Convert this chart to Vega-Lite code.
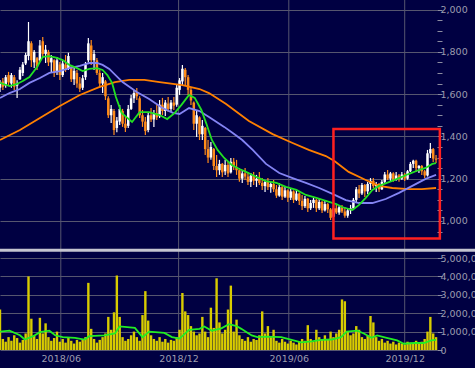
{
"$schema": "https://vega.github.io/schema/vega-lite/v6.json",
"width": 437, "height": 350,
"autosize": {"type": "none"},
"padding": {"left": 0, "top": 0, "right": 38, "bottom": 18},
"background": "#000042",
"config": {
  "view": {"stroke": null},
  "axis": {"labelFont": "DejaVu Sans", "labelFontSize": 9.5, "labelColor": "#9c9cae", "tickColor": "#8c8ca0", "gridColor": "#56566f", "domain": false}
},
"datasets": {
"grid": [{"t":64},{"t":188},{"t":304},{"t":426}],
"px": [
{"t":0,"o":1630,"h":1667,"l":1610,"c":1655,"v":2200000},
{"t":3,"o":1660,"h":1676,"l":1620,"c":1635,"v":600000},
{"t":6,"o":1640,"h":1690,"l":1630,"c":1680,"v":450000},
{"t":9,"o":1690,"h":1705,"l":1643,"c":1655,"v":700000},
{"t":12,"o":1650,"h":1700,"l":1630,"c":1690,"v":500000},
{"t":15,"o":1680,"h":1690,"l":1620,"c":1635,"v":800000},
{"t":18,"o":1640,"h":1665,"l":1582,"c":1650,"v":650000},
{"t":21,"o":1670,"h":1728,"l":1667,"c":1715,"v":400000},
{"t":24,"o":1700,"h":1752,"l":1686,"c":1740,"v":550000},
{"t":27,"o":1745,"h":1795,"l":1738,"c":1785,"v":900000},
{"t":30,"o":1780,"h":1941,"l":1760,"c":1850,"v":4000000},
{"t":33,"o":1840,"h":1850,"l":1728,"c":1760,"v":1700000},
{"t":36,"o":1750,"h":1809,"l":1724,"c":1800,"v":800000},
{"t":39,"o":1770,"h":1775,"l":1714,"c":1730,"v":600000},
{"t":42,"o":1760,"h":1856,"l":1752,"c":1830,"v":1750000},
{"t":45,"o":1850,"h":1870,"l":1771,"c":1790,"v":900000},
{"t":48,"o":1790,"h":1832,"l":1747,"c":1810,"v":1450000},
{"t":51,"o":1800,"h":1809,"l":1733,"c":1750,"v":700000},
{"t":54,"o":1750,"h":1785,"l":1705,"c":1770,"v":500000},
{"t":57,"o":1760,"h":1765,"l":1681,"c":1700,"v":650000},
{"t":60,"o":1710,"h":1776,"l":1690,"c":1760,"v":1000000},
{"t":63,"o":1740,"h":1752,"l":1667,"c":1690,"v":450000},
{"t":66,"o":1690,"h":1761,"l":1681,"c":1745,"v":600000},
{"t":69,"o":1740,"h":1785,"l":1705,"c":1720,"v":400000},
{"t":72,"o":1720,"h":1795,"l":1714,"c":1780,"v":700000},
{"t":75,"o":1730,"h":1738,"l":1657,"c":1670,"v":500000},
{"t":78,"o":1670,"h":1724,"l":1643,"c":1710,"v":350000},
{"t":81,"o":1700,"h":1714,"l":1630,"c":1650,"v":550000},
{"t":84,"o":1650,"h":1681,"l":1610,"c":1625,"v":450000},
{"t":87,"o":1630,"h":1690,"l":1620,"c":1675,"v":600000},
{"t":90,"o":1680,"h":1752,"l":1667,"c":1740,"v":700000},
{"t":93,"o":1760,"h":1865,"l":1750,"c":1840,"v":3650000},
{"t":96,"o":1830,"h":1856,"l":1738,"c":1760,"v":1150000},
{"t":99,"o":1760,"h":1809,"l":1714,"c":1790,"v":600000},
{"t":102,"o":1760,"h":1771,"l":1690,"c":1700,"v":400000},
{"t":105,"o":1700,"h":1714,"l":1630,"c":1650,"v":550000},
{"t":108,"o":1650,"h":1700,"l":1605,"c":1680,"v":700000},
{"t":111,"o":1660,"h":1667,"l":1572,"c":1590,"v":900000},
{"t":114,"o":1580,"h":1590,"l":1487,"c":1500,"v":1800000},
{"t":117,"o":1500,"h":1549,"l":1463,"c":1530,"v":1100000},
{"t":120,"o":1520,"h":1530,"l":1407,"c":1430,"v":2050000},
{"t":123,"o":1440,"h":1492,"l":1420,"c":1475,"v":4050000},
{"t":126,"o":1470,"h":1549,"l":1454,"c":1530,"v":1800000},
{"t":129,"o":1520,"h":1530,"l":1445,"c":1460,"v":700000},
{"t":132,"o":1460,"h":1492,"l":1421,"c":1440,"v":500000},
{"t":135,"o":1450,"h":1549,"l":1440,"c":1530,"v":600000},
{"t":138,"o":1530,"h":1596,"l":1525,"c":1580,"v":800000},
{"t":141,"o":1580,"h":1620,"l":1558,"c":1605,"v":1000000},
{"t":144,"o":1610,"h":1629,"l":1572,"c":1590,"v":700000},
{"t":147,"o":1580,"h":1590,"l":1487,"c":1500,"v":500000},
{"t":150,"o":1500,"h":1525,"l":1445,"c":1470,"v":1900000},
{"t":153,"o":1470,"h":1492,"l":1407,"c":1425,"v":3200000},
{"t":156,"o":1430,"h":1515,"l":1420,"c":1500,"v":1600000},
{"t":159,"o":1500,"h":1534,"l":1468,"c":1480,"v":800000},
{"t":162,"o":1480,"h":1525,"l":1445,"c":1510,"v":600000},
{"t":165,"o":1510,"h":1549,"l":1478,"c":1490,"v":500000},
{"t":168,"o":1495,"h":1572,"l":1487,"c":1550,"v":700000},
{"t":171,"o":1550,"h":1582,"l":1501,"c":1520,"v":450000},
{"t":174,"o":1520,"h":1572,"l":1497,"c":1560,"v":600000},
{"t":177,"o":1555,"h":1586,"l":1515,"c":1530,"v":400000},
{"t":180,"o":1530,"h":1572,"l":1515,"c":1560,"v":550000},
{"t":183,"o":1560,"h":1586,"l":1525,"c":1545,"v":500000},
{"t":186,"o":1550,"h":1643,"l":1540,"c":1630,"v":700000},
{"t":189,"o":1620,"h":1676,"l":1596,"c":1665,"v":1100000},
{"t":192,"o":1660,"h":1738,"l":1643,"c":1720,"v":3100000},
{"t":195,"o":1715,"h":1724,"l":1643,"c":1680,"v":2100000},
{"t":198,"o":1680,"h":1690,"l":1596,"c":1620,"v":1900000},
{"t":201,"o":1620,"h":1629,"l":1549,"c":1570,"v":1300000},
{"t":204,"o":1560,"h":1565,"l":1430,"c":1460,"v":1000000},
{"t":207,"o":1460,"h":1525,"l":1397,"c":1500,"v":800000},
{"t":210,"o":1490,"h":1495,"l":1383,"c":1410,"v":900000},
{"t":213,"o":1410,"h":1478,"l":1383,"c":1450,"v":1800000},
{"t":216,"o":1440,"h":1445,"l":1312,"c":1340,"v":1000000},
{"t":219,"o":1340,"h":1383,"l":1274,"c":1300,"v":700000},
{"t":222,"o":1300,"h":1374,"l":1289,"c":1350,"v":2300000},
{"t":225,"o":1340,"h":1345,"l":1241,"c":1260,"v":1200000},
{"t":228,"o":1260,"h":1312,"l":1208,"c":1240,"v":3900000},
{"t":231,"o":1240,"h":1289,"l":1218,"c":1270,"v":1500000},
{"t":234,"o":1270,"h":1274,"l":1208,"c":1230,"v":900000},
{"t":237,"o":1235,"h":1289,"l":1218,"c":1265,"v":1100000},
{"t":240,"o":1265,"h":1279,"l":1208,"c":1225,"v":2200000},
{"t":243,"o":1230,"h":1298,"l":1225,"c":1280,"v":3500000},
{"t":246,"o":1280,"h":1298,"l":1241,"c":1255,"v":1000000},
{"t":249,"o":1255,"h":1289,"l":1218,"c":1240,"v":1650000},
{"t":252,"o":1240,"h":1251,"l":1185,"c":1200,"v":800000},
{"t":255,"o":1200,"h":1241,"l":1180,"c":1225,"v":600000},
{"t":258,"o":1225,"h":1251,"l":1194,"c":1210,"v":500000},
{"t":261,"o":1210,"h":1232,"l":1170,"c":1185,"v":700000},
{"t":264,"o":1185,"h":1227,"l":1161,"c":1215,"v":450000},
{"t":267,"o":1215,"h":1232,"l":1170,"c":1190,"v":600000},
{"t":270,"o":1190,"h":1218,"l":1161,"c":1200,"v":550000},
{"t":273,"o":1200,"h":1232,"l":1170,"c":1180,"v":800000},
{"t":276,"o":1180,"h":1203,"l":1147,"c":1165,"v":2100000},
{"t":279,"o":1165,"h":1194,"l":1137,"c":1185,"v":900000},
{"t":282,"o":1185,"h":1203,"l":1147,"c":1160,"v":1300000},
{"t":285,"o":1160,"h":1184,"l":1133,"c":1175,"v":700000},
{"t":288,"o":1175,"h":1194,"l":1137,"c":1150,"v":1100000},
{"t":291,"o":1150,"h":1170,"l":1109,"c":1120,"v":500000},
{"t":294,"o":1120,"h":1180,"l":1115,"c":1160,"v":400000},
{"t":297,"o":1160,"h":1165,"l":1099,"c":1115,"v":600000},
{"t":300,"o":1115,"h":1161,"l":1109,"c":1145,"v":450000},
{"t":303,"o":1145,"h":1150,"l":1090,"c":1110,"v":350000},
{"t":306,"o":1110,"h":1156,"l":1099,"c":1140,"v":500000},
{"t":309,"o":1140,"h":1145,"l":1085,"c":1100,"v":400000},
{"t":312,"o":1100,"h":1147,"l":1095,"c":1130,"v":300000},
{"t":315,"o":1130,"h":1135,"l":1076,"c":1095,"v":450000},
{"t":318,"o":1095,"h":1123,"l":1052,"c":1070,"v":600000},
{"t":321,"o":1070,"h":1118,"l":1062,"c":1105,"v":500000},
{"t":324,"o":1105,"h":1109,"l":1043,"c":1060,"v":1350000},
{"t":327,"o":1060,"h":1099,"l":1052,"c":1085,"v":600000},
{"t":330,"o":1085,"h":1109,"l":1062,"c":1100,"v":450000},
{"t":333,"o":1100,"h":1105,"l":1043,"c":1060,"v":1100000},
{"t":336,"o":1060,"h":1109,"l":1052,"c":1090,"v":700000},
{"t":339,"o":1090,"h":1095,"l":1038,"c":1050,"v":550000},
{"t":342,"o":1050,"h":1099,"l":1045,"c":1080,"v":800000},
{"t":345,"o":1080,"h":1085,"l":1038,"c":1055,"v":600000},
{"t":348,"o":1055,"h":1062,"l":1005,"c":1015,"v":1000000},
{"t":351,"o":1020,"h":1076,"l":1015,"c":1060,"v":700000},
{"t":354,"o":1060,"h":1076,"l":1033,"c":1040,"v":900000},
{"t":357,"o":1040,"h":1071,"l":1029,"c":1065,"v":1100000},
{"t":360,"o":1065,"h":1076,"l":1038,"c":1045,"v":2750000},
{"t":363,"o":1045,"h":1066,"l":1015,"c":1025,"v":2650000},
{"t":366,"o":1025,"h":1062,"l":1015,"c":1050,"v":1000000},
{"t":369,"o":1050,"h":1076,"l":1033,"c":1060,"v":800000},
{"t":372,"o":1060,"h":1109,"l":1052,"c":1100,"v":900000},
{"t":375,"o":1100,"h":1161,"l":1085,"c":1150,"v":1300000},
{"t":378,"o":1150,"h":1170,"l":1109,"c":1130,"v":1100000},
{"t":381,"o":1130,"h":1180,"l":1123,"c":1170,"v":700000},
{"t":384,"o":1170,"h":1175,"l":1113,"c":1140,"v":600000},
{"t":387,"o":1140,"h":1184,"l":1128,"c":1175,"v":800000},
{"t":390,"o":1175,"h":1203,"l":1147,"c":1190,"v":1850000},
{"t":393,"o":1190,"h":1203,"l":1156,"c":1165,"v":1500000},
{"t":396,"o":1165,"h":1184,"l":1137,"c":1175,"v":700000},
{"t":399,"o":1175,"h":1180,"l":1137,"c":1150,"v":500000},
{"t":402,"o":1150,"h":1194,"l":1147,"c":1185,"v":600000},
{"t":405,"o":1185,"h":1232,"l":1180,"c":1220,"v":400000},
{"t":408,"o":1220,"h":1241,"l":1194,"c":1200,"v":500000},
{"t":411,"o":1200,"h":1232,"l":1185,"c":1225,"v":350000},
{"t":414,"o":1225,"h":1230,"l":1185,"c":1195,"v":450000},
{"t":417,"o":1195,"h":1232,"l":1190,"c":1215,"v":300000},
{"t":420,"o":1215,"h":1222,"l":1185,"c":1200,"v":400000},
{"t":423,"o":1200,"h":1232,"l":1194,"c":1220,"v":350000},
{"t":426,"o":1220,"h":1227,"l":1189,"c":1200,"v":300000},
{"t":429,"o":1200,"h":1241,"l":1195,"c":1235,"v":450000},
{"t":432,"o":1235,"h":1279,"l":1232,"c":1270,"v":400000},
{"t":435,"o":1270,"h":1289,"l":1251,"c":1285,"v":350000},
{"t":438,"o":1285,"h":1290,"l":1232,"c":1250,"v":500000},
{"t":441,"o":1250,"h":1265,"l":1227,"c":1260,"v":400000},
{"t":444,"o":1260,"h":1265,"l":1218,"c":1235,"v":450000},
{"t":447,"o":1235,"h":1241,"l":1203,"c":1215,"v":600000},
{"t":450,"o":1215,"h":1336,"l":1210,"c":1320,"v":1000000},
{"t":453,"o":1320,"h":1369,"l":1298,"c":1340,"v":1800000},
{"t":456,"o":1340,"h":1345,"l":1279,"c":1295,"v":900000},
{"t":459,"o":1295,"h":1312,"l":1274,"c":1290,"v":700000}
],
"ma25": [
{"t":0,"p":1653},{"t":10,"p":1638},{"t":18,"p":1648},{"t":24,"p":1662},{"t":31,"p":1681},{"t":39,"p":1728},{"t":45,"p":1776},{"t":52,"p":1780},{"t":60,"p":1771},{"t":66,"p":1761},{"t":73,"p":1738},{"t":81,"p":1723},{"t":87,"p":1709},{"t":94,"p":1719},{"t":102,"p":1723},{"t":108,"p":1714},{"t":113,"p":1690},{"t":118,"p":1653},{"t":122,"p":1586},{"t":128,"p":1511},{"t":139,"p":1468},{"t":147,"p":1515},{"t":157,"p":1515},{"t":168,"p":1501},{"t":176,"p":1482},{"t":184,"p":1511},{"t":191,"p":1549},{"t":199,"p":1596},{"t":205,"p":1582},{"t":212,"p":1525},{"t":217,"p":1463},{"t":223,"p":1383},{"t":229,"p":1336},{"t":236,"p":1298},{"t":244,"p":1265},{"t":252,"p":1246},{"t":259,"p":1232},{"t":270,"p":1208},{"t":280,"p":1189},{"t":291,"p":1180},{"t":301,"p":1161},{"t":312,"p":1147},{"t":322,"p":1123},{"t":333,"p":1109},{"t":343,"p":1095},{"t":354,"p":1080},{"t":360,"p":1066},{"t":371,"p":1052},{"t":378,"p":1076},{"t":385,"p":1109},{"t":392,"p":1147},{"t":399,"p":1166},{"t":410,"p":1185},{"t":420,"p":1203},{"t":430,"p":1222},{"t":441,"p":1241},{"t":448,"p":1251},{"t":455,"p":1270},{"t":459,"p":1274}
],
"ma75": [
{"t":0,"p":1582},{"t":10,"p":1605},{"t":21,"p":1624},{"t":31,"p":1653},{"t":42,"p":1676},{"t":52,"p":1700},{"t":63,"p":1709},{"t":73,"p":1723},{"t":84,"p":1733},{"t":94,"p":1747},{"t":102,"p":1747},{"t":108,"p":1738},{"t":115,"p":1719},{"t":129,"p":1657},{"t":144,"p":1610},{"t":157,"p":1577},{"t":171,"p":1534},{"t":182,"p":1511},{"t":189,"p":1506},{"t":199,"p":1534},{"t":210,"p":1520},{"t":220,"p":1492},{"t":228,"p":1468},{"t":236,"p":1445},{"t":245,"p":1416},{"t":255,"p":1383},{"t":266,"p":1336},{"t":280,"p":1270},{"t":294,"p":1227},{"t":308,"p":1203},{"t":322,"p":1180},{"t":336,"p":1156},{"t":350,"p":1128},{"t":364,"p":1099},{"t":378,"p":1085},{"t":392,"p":1085},{"t":406,"p":1104},{"t":420,"p":1133},{"t":434,"p":1166},{"t":448,"p":1199},{"t":459,"p":1218}
],
"ma200": [
{"t":0,"p":1383},{"t":21,"p":1430},{"t":42,"p":1487},{"t":63,"p":1544},{"t":84,"p":1596},{"t":105,"p":1634},{"t":121,"p":1657},{"t":136,"p":1667},{"t":152,"p":1667},{"t":168,"p":1657},{"t":192,"p":1643},{"t":210,"p":1624},{"t":220,"p":1605},{"t":238,"p":1553},{"t":262,"p":1473},{"t":287,"p":1411},{"t":308,"p":1369},{"t":325,"p":1336},{"t":343,"p":1307},{"t":352,"p":1284},{"t":367,"p":1232},{"t":385,"p":1194},{"t":399,"p":1166},{"t":413,"p":1156},{"t":430,"p":1151},{"t":444,"p":1151},{"t":459,"p":1156}
],
"vma": [
{"t":0,"v":1000000},{"t":10,"v":1050000},{"t":21,"v":800000},{"t":26,"v":570000},{"t":35,"v":750000},{"t":42,"v":970000},{"t":52,"v":1050000},{"t":58,"v":800000},{"t":66,"v":700000},{"t":79,"v":660000},{"t":89,"v":570000},{"t":94,"v":750000},{"t":110,"v":800000},{"t":121,"v":900000},{"t":126,"v":1280000},{"t":142,"v":1200000},{"t":150,"v":700000},{"t":157,"v":1000000},{"t":173,"v":930000},{"t":181,"v":700000},{"t":189,"v":620000},{"t":199,"v":1100000},{"t":210,"v":1150000},{"t":215,"v":1280000},{"t":223,"v":1050000},{"t":233,"v":1180000},{"t":241,"v":1400000},{"t":249,"v":1300000},{"t":254,"v":1150000},{"t":265,"v":790000},{"t":271,"v":700000},{"t":281,"v":730000},{"t":296,"v":700000},{"t":307,"v":550000},{"t":317,"v":420000},{"t":328,"v":470000},{"t":338,"v":550000},{"t":349,"v":570000},{"t":359,"v":700000},{"t":365,"v":1000000},{"t":376,"v":1050000},{"t":383,"v":900000},{"t":391,"v":660000},{"t":397,"v":790000},{"t":407,"v":660000},{"t":418,"v":520000},{"t":425,"v":340000},{"t":436,"v":380000},{"t":446,"v":380000},{"t":454,"v":520000},{"t":459,"v":550000}
]
},
"layer": [
{
"data": {"name": "grid"},
"mark": {"type": "rule", "color": "#56566f", "strokeWidth": 1},
"encoding": {
  "x": {"field": "t", "type": "quantitative", "scale": {"domain": [0, 460], "nice": false, "zero": false, "padding": 0},
        "axis": {"orient": "bottom", "title": null, "values": [64, 188, 304, 426], "labelExpr": "datum.value == 64 ? '2018/06' : datum.value == 188 ? '2018/12' : datum.value == 304 ? '2019/06' : '2019/12'", "grid": false, "ticks": false, "labelPadding": 3, "labelFlush": false, "labelOverlap": false}}
}
},
{
"data": {"name": "px"},
"mark": {"type": "bar", "size": 2.4, "color": "#d8cc00"},
"encoding": {
  "x": {"field": "t", "type": "quantitative", "scale": {"domain": [0, 460], "nice": false, "zero": false, "padding": 0},
        "axis": {"orient": "bottom", "title": null, "values": [64, 188, 304, 426], "labelExpr": "datum.value == 64 ? '2018/06' : datum.value == 188 ? '2018/12' : datum.value == 304 ? '2019/06' : '2019/12'", "grid": false, "ticks": false, "labelPadding": 3, "labelFlush": false, "labelOverlap": false}},
  "y": {"field": "v", "type": "quantitative", "scale": {"domain": [0, 5600000], "range": [350, 247], "nice": false},
        "axis": {"orient": "right", "title": null, "values": [0,1000000,2000000,3000000,4000000,5000000], "format": ",d", "tickSize": 5, "labelPadding": -2, "labelOverlap": false, "grid": true}}
}
},
{
"data": {"name": "vma"},
"mark": {"type": "line", "color": "#22ee22", "strokeWidth": 1.8},
"encoding": {
  "x": {"field": "t", "type": "quantitative", "scale": {"domain": [0, 460], "nice": false, "zero": false, "padding": 0},
        "axis": {"orient": "bottom", "title": null, "values": [64, 188, 304, 426], "labelExpr": "datum.value == 64 ? '2018/06' : datum.value == 188 ? '2018/12' : datum.value == 304 ? '2019/06' : '2019/12'", "grid": false, "ticks": false, "labelPadding": 3, "labelFlush": false, "labelOverlap": false}},
  "y": {"field": "v", "type": "quantitative", "scale": {"domain": [0, 5600000], "range": [350, 247], "nice": false}, "axis": null}
}
},
{
"data": {"values": [{}]},
"mark": {"type": "rule", "color": "#c4c4d0", "strokeWidth": 3},
"encoding": {
  "x": {"datum": 0, "type": "quantitative", "scale": {"domain": [0, 460], "nice": false, "zero": false, "padding": 0},
        "axis": {"orient": "bottom", "title": null, "values": [64, 188, 304, 426], "labelExpr": "datum.value == 64 ? '2018/06' : datum.value == 188 ? '2018/12' : datum.value == 304 ? '2019/06' : '2019/12'", "grid": false, "ticks": false, "labelPadding": 3, "labelFlush": false, "labelOverlap": false}},
  "x2": {"datum": 500},
  "y": {"datum": 5430000, "type": "quantitative", "scale": {"domain": [0, 5600000], "range": [350, 247], "nice": false}, "axis": null}
}
},
{
"data": {"name": "px"},
"mark": {"type": "rule", "strokeWidth": 1.2},
"encoding": {
  "x": {"field": "t", "type": "quantitative", "scale": {"domain": [0, 460], "nice": false, "zero": false, "padding": 0},
        "axis": {"orient": "bottom", "title": null, "values": [64, 188, 304, 426], "labelExpr": "datum.value == 64 ? '2018/06' : datum.value == 188 ? '2018/12' : datum.value == 304 ? '2019/06' : '2019/12'", "grid": false, "ticks": false, "labelPadding": 3, "labelFlush": false, "labelOverlap": false}},
  "y": {"field": "l", "type": "quantitative", "scale": {"domain": [877, 2045], "range": [247, 0], "nice": false, "zero": false},
        "axis": {"orient": "right", "title": null, "values": [1000,1200,1400,1600,1800,2000], "format": ",d", "grid": true, "tickSize": 5, "labelPadding": -2, "labelOverlap": false}},
  "y2": {"field": "h"},
  "color": {"condition": {"test": "datum.c >= datum.o", "value": "#ffffff"}, "value": "#ff8c1a"}
}
},
{
"data": {"name": "px"},
"mark": {"type": "bar", "size": 2.5},
"encoding": {
  "x": {"field": "t", "type": "quantitative", "scale": {"domain": [0, 460], "nice": false, "zero": false, "padding": 0},
        "axis": {"orient": "bottom", "title": null, "values": [64, 188, 304, 426], "labelExpr": "datum.value == 64 ? '2018/06' : datum.value == 188 ? '2018/12' : datum.value == 304 ? '2019/06' : '2019/12'", "grid": false, "ticks": false, "labelPadding": 3, "labelFlush": false, "labelOverlap": false}},
  "y": {"field": "o", "type": "quantitative", "scale": {"domain": [877, 2045], "range": [247, 0], "nice": false, "zero": false}, "axis": null},
  "y2": {"field": "c"},
  "color": {"condition": {"test": "datum.c >= datum.o", "value": "#ffffff"}, "value": "#ff8c1a"}
}
},
{
"data": {"name": "ma200"},
"mark": {"type": "line", "color": "#ff8000", "strokeWidth": 1.8},
"encoding": {
  "x": {"field": "t", "type": "quantitative", "scale": {"domain": [0, 460], "nice": false, "zero": false, "padding": 0},
        "axis": {"orient": "bottom", "title": null, "values": [64, 188, 304, 426], "labelExpr": "datum.value == 64 ? '2018/06' : datum.value == 188 ? '2018/12' : datum.value == 304 ? '2019/06' : '2019/12'", "grid": false, "ticks": false, "labelPadding": 3, "labelFlush": false, "labelOverlap": false}},
  "y": {"field": "p", "type": "quantitative", "scale": {"domain": [877, 2045], "range": [247, 0], "nice": false, "zero": false}, "axis": null}}
},
{
"data": {"name": "ma75"},
"mark": {"type": "line", "color": "#8484f4", "strokeWidth": 1.8},
"encoding": {
  "x": {"field": "t", "type": "quantitative", "scale": {"domain": [0, 460], "nice": false, "zero": false, "padding": 0},
        "axis": {"orient": "bottom", "title": null, "values": [64, 188, 304, 426], "labelExpr": "datum.value == 64 ? '2018/06' : datum.value == 188 ? '2018/12' : datum.value == 304 ? '2019/06' : '2019/12'", "grid": false, "ticks": false, "labelPadding": 3, "labelFlush": false, "labelOverlap": false}},
  "y": {"field": "p", "type": "quantitative", "scale": {"domain": [877, 2045], "range": [247, 0], "nice": false, "zero": false}, "axis": null}}
},
{
"data": {"name": "ma25"},
"mark": {"type": "line", "color": "#22e022", "strokeWidth": 1.8},
"encoding": {
  "x": {"field": "t", "type": "quantitative", "scale": {"domain": [0, 460], "nice": false, "zero": false, "padding": 0},
        "axis": {"orient": "bottom", "title": null, "values": [64, 188, 304, 426], "labelExpr": "datum.value == 64 ? '2018/06' : datum.value == 188 ? '2018/12' : datum.value == 304 ? '2019/06' : '2019/12'", "grid": false, "ticks": false, "labelPadding": 3, "labelFlush": false, "labelOverlap": false}},
  "y": {"field": "p", "type": "quantitative", "scale": {"domain": [877, 2045], "range": [247, 0], "nice": false, "zero": false}, "axis": null}}
},
{
"data": {"values": [{}]},
"mark": {"type": "rect", "filled": false, "stroke": "#ff2020", "strokeWidth": 2.5},
"encoding": {
  "x": {"datum": 351, "type": "quantitative", "scale": {"domain": [0, 460], "nice": false, "zero": false, "padding": 0},
        "axis": {"orient": "bottom", "title": null, "values": [64, 188, 304, 426], "labelExpr": "datum.value == 64 ? '2018/06' : datum.value == 188 ? '2018/12' : datum.value == 304 ? '2019/06' : '2019/12'", "grid": false, "ticks": false, "labelPadding": 3, "labelFlush": false, "labelOverlap": false}},
  "x2": {"datum": 463},
  "y": {"datum": 1435, "type": "quantitative", "scale": {"domain": [877, 2045], "range": [247, 0], "nice": false, "zero": false},
        "axis": {"orient": "right", "title": null, "values": [950,1050,1100,1150,1250,1300,1350,1450,1500,1550,1650,1700,1750,1850,1900,1950], "labels": false, "grid": false, "tickSize": 5}},
  "y2": {"datum": 917}
}
}
],
"resolve": {"scale": {"y": "independent"}}
}
